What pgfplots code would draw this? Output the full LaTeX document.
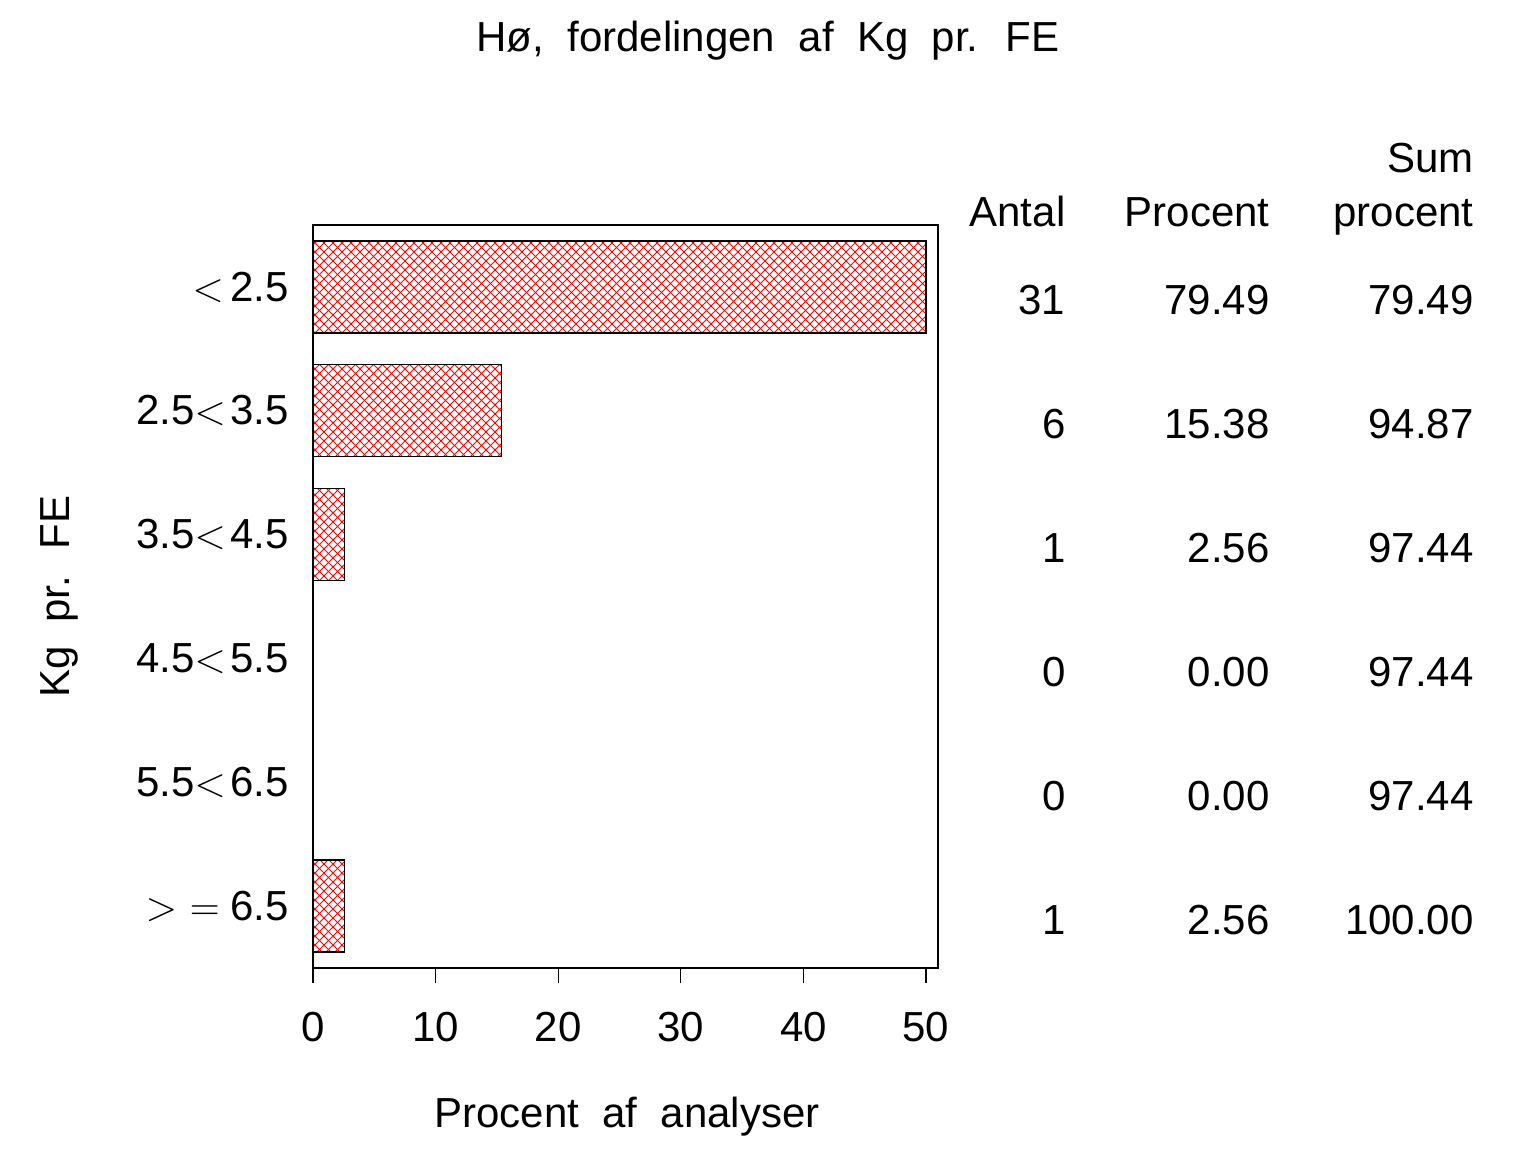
\documentclass[border=0pt]{standalone}
\usepackage{fontspec}
\setmainfont{Liberation Sans}[WordSpace=2]
\usepackage{pgfplots}
\pgfplotsset{compat=1.18}
\usetikzlibrary{patterns.meta}
\tikzdeclarepattern{
  name=diamondhatch,
  type=uncolored,
  bounding box={(-0.5pt,-0.5pt) and (5pt,5pt)},
  tile size={(4.5pt,4.5pt)},
  code={
    \draw[line width=0.45pt] (-0.5pt,-0.5pt) -- (5pt,5pt);
    \draw[line width=0.45pt] (-0.5pt,5pt) -- (5pt,-0.5pt);
  }
}
\begin{document}
\fontsize{21}{25}\selectfont
\begin{tikzpicture}
\useasboundingbox (0,0) rectangle (768pt,576pt);
\begin{axis}[
  at={(156.5pt,92pt)}, anchor=south west,
  scale only axis, width=312.5pt, height=371.5pt,
  xbar, bar width=46pt,
  xmin=0, xmax=50.98,
  ymin=-0.5, ymax=5.5, y dir=reverse,
  xtick={0,10,...,50}, xtick pos=bottom, tick align=outside,
  major tick length=7.5pt,
  ytick={0,...,5},
  yticklabels={{$<$\hspace{0.15em}2.5},{2.5$<$\hspace{0.1em}3.5},{3.5$<$\hspace{0.1em}4.5},{4.5$<$\hspace{0.1em}5.5},{5.5$<$\hspace{0.1em}6.5},{$>$\hspace{0.3em}$=$\hspace{0.25em}6.5}},
  ytick style={draw=none},
  /pgf/number format/assume math mode=true,
  tick label style={font=\fontsize{21}{25}\selectfont},
  yticklabel style={inner sep=0pt, anchor=east, xshift=-4.5pt},
  xticklabel style={inner sep=0pt, anchor=north, yshift=-14.5pt},
  axis line style={line width=1pt},
  tick style={line width=0.6pt, black},
  clip=false,
  every node/.append style={inner sep=0pt},
]
\addplot[draw=black, line width=0.6pt, pattern=diamondhatch, pattern color=red]
  coordinates {(50,0) (15.38,1) (2.56,2) (0,3) (0,4) (2.56,5)};

\node[anchor=base, inner sep=0pt] at (axis description cs:0.728,1.233) {Hø, fordelingen af Kg pr. FE};
\node[anchor=base, inner sep=0pt] at (axis description cs:0.5024,-0.214) {Procent af analyser};
\node[anchor=base, rotate=90, inner sep=0pt] at (axis description cs:-0.3888,0.5) {Kg pr. FE};

\node[anchor=base east, inner sep=0pt] at (axis cs:61.4,-0.492) {Antal};
\node[anchor=base east, inner sep=0pt] at (axis cs:78.06,-0.492) {Procent};
\node[anchor=base east, inner sep=0pt] at (axis cs:94.7,-0.927) {Sum};
\node[anchor=base east, inner sep=0pt] at (axis cs:94.7,-0.492) {procent};

\node[anchor=base east, inner sep=0pt] at (axis cs:61.4,0.226) {31};
\node[anchor=base east, inner sep=0pt] at (axis cs:78.06,0.226) {79.49};
\node[anchor=base east, inner sep=0pt] at (axis cs:94.7,0.226) {79.49};
\node[anchor=base east, inner sep=0pt] at (axis cs:61.4,1.226) {6};
\node[anchor=base east, inner sep=0pt] at (axis cs:78.06,1.226) {15.38};
\node[anchor=base east, inner sep=0pt] at (axis cs:94.7,1.226) {94.87};
\node[anchor=base east, inner sep=0pt] at (axis cs:61.4,2.226) {1};
\node[anchor=base east, inner sep=0pt] at (axis cs:78.06,2.226) {2.56};
\node[anchor=base east, inner sep=0pt] at (axis cs:94.7,2.226) {97.44};
\node[anchor=base east, inner sep=0pt] at (axis cs:61.4,3.226) {0};
\node[anchor=base east, inner sep=0pt] at (axis cs:78.06,3.226) {0.00};
\node[anchor=base east, inner sep=0pt] at (axis cs:94.7,3.226) {97.44};
\node[anchor=base east, inner sep=0pt] at (axis cs:61.4,4.226) {0};
\node[anchor=base east, inner sep=0pt] at (axis cs:78.06,4.226) {0.00};
\node[anchor=base east, inner sep=0pt] at (axis cs:94.7,4.226) {97.44};
\node[anchor=base east, inner sep=0pt] at (axis cs:61.4,5.226) {1};
\node[anchor=base east, inner sep=0pt] at (axis cs:78.06,5.226) {2.56};
\node[anchor=base east, inner sep=0pt] at (axis cs:94.7,5.226) {100.00};
\end{axis}
\end{tikzpicture}
\end{document}
